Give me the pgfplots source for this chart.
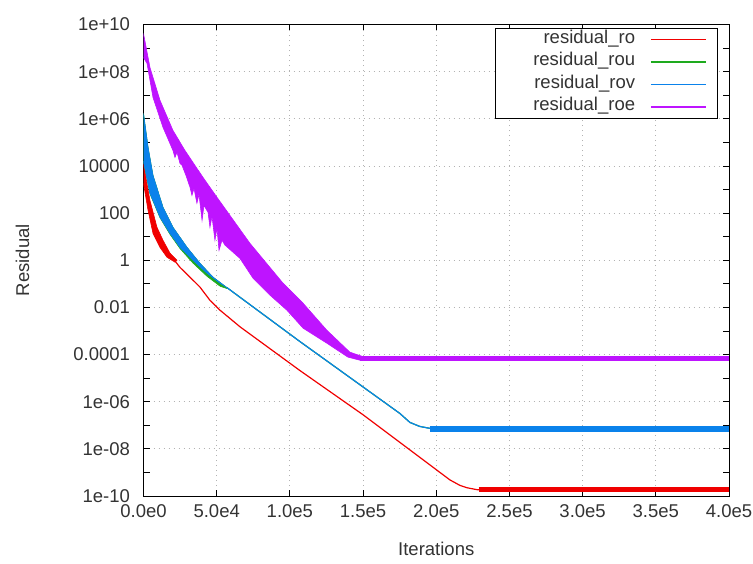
\documentclass[border=0pt]{standalone}
\usepackage{pgfplots}
\pgfplotsset{compat=1.18}
\usepackage{fontspec}
\setmainfont{Liberation Sans}
\definecolor{cro}{RGB}{240,0,0}
\definecolor{crou}{RGB}{30,170,30}
\definecolor{crov}{RGB}{10,130,235}
\definecolor{croe}{RGB}{190,20,255}
\newcommand\f{\fontsize{18.5pt}{22pt}\selectfont}
\begin{document}
\begin{tikzpicture}
\begin{axis}[
 scale only axis, width=585.5pt, height=471.5pt,
 xmin=0, xmax=400000, ymin=1e-10, ymax=1e10, ymode=log,
 xtick={0,50000,100000,150000,200000,250000,300000,350000,400000},
 xticklabels={0.0e0,5.0e4,1.0e5,1.5e5,2.0e5,2.5e5,3.0e5,3.5e5,4.0e5},
 scaled x ticks=false,
 ytick={1e-10,1e-8,1e-6,1e-4,1e-2,1,1e2,1e4,1e6,1e8,1e10},
 yticklabels={1e-10,1e-08,1e-06,0.0001,0.01,1,100,10000,1e+06,1e+08,1e+10},
 minor ytick={1e-9,1e-7,1e-5,1e-3,1e-1,10,1e3,1e5,1e7,1e9},
 grid=major,
 major grid style={gray!60, dash pattern=on 1.5pt off 3.5pt, line width=0.8pt},
 tick align=inside,
 tick style={black, line width=0.8pt},
 major tick length=6pt, minor tick length=6pt,
 axis line style={black, line width=1pt},
 tick label style={font=\f, text=black!80},
 yticklabel style={xshift=-10pt},
 xticklabel style={yshift=-5.5pt},
 xlabel={Iterations}, ylabel={Residual},
 every axis x label/.style={at={(axis description cs:0.5,-0.1124)}, anchor=center, font=\f, text=black!80},
 every axis y label/.style={at={(axis description cs:-0.2067,0.5)}, rotate=90, anchor=center, font=\f, text=black!80},
 legend style={at={(axis description cs:1,1)}, anchor=north east, xshift=-11pt, yshift=-3.5pt,
   font=\f, text=black!80, draw=black, line width=0.8pt, fill=white,
   inner xsep=0pt, inner ysep=0pt, row sep=0pt,
   nodes={inner sep=0pt, text height=15pt, text depth=7.5pt}},
 legend cell align=right, legend plot pos=right,
 legend image code/.code={\path (0pt,0pt) (81pt,0pt); \draw[#1] (15pt,0pt) -- (70pt,0pt);},
]
\addlegendimage{color=cro, draw=cro, line width=1.5pt}
\addlegendentry{\makebox[140pt][r]{residual\_ro}}
\addlegendimage{color=crou, draw=crou, line width=1.5pt}
\addlegendentry{\makebox[140pt][r]{residual\_rou}}
\addlegendimage{color=crov, draw=crov, line width=1.5pt}
\addlegendentry{\makebox[140pt][r]{residual\_rov}}
\addlegendimage{color=croe, draw=croe, line width=1.5pt}
\addlegendentry{\makebox[140pt][r]{residual\_roe}}

% ---- residual_ro ----
\addplot[forget plot, fill=cro, draw=cro, line width=0.6pt] coordinates {
 (0,1.29e4) (4400,347) (9200,25.1) (13300,7.08) (18100,2.0) (22900,1.0)
 (21500,0.832) (16000,1.35) (11200,3.55) (6500,13.8) (3100,132) (0,1820)};
\addplot[forget plot, cro, line width=1.2pt] coordinates {
 (20100,1.2) (24900,0.501) (31800,0.191) (38600,0.0724) (45400,0.02) (52300,7.59e-3)
 (59100,3.39e-3) (65900,1.51e-3) (106900,2.09e-5) (149900,2.82e-7) (202500,1e-9)
 (209400,4.79e-10) (216200,2.82e-10) (221000,2.24e-10) (227800,1.86e-10) (233200,1.78e-10)};
\addplot[forget plot, cro, line width=5pt] coordinates {(229000,1.8e-10) (400000,1.8e-10)};

% ---- residual_rou ----
\addplot[forget plot, fill=crou, draw=crou, line width=0.6pt] coordinates {
 (0,1.7e6) (3100,6.31e4) (6500,3980) (13300,178) (20100,25.1) (29700,3.55) (38600,0.741)
 (47500,0.191) (57000,0.0692)
 (57000,0.0631) (52300,0.0794) (43400,0.209) (33800,0.759) (24900,3.16) (18100,12.6)
 (11300,63.1) (4400,661) (0,1.58e4)};
\addplot[forget plot, crou, line width=1.2pt] coordinates {
 (57000,0.0692) (106900,3.55e-4) (175200,3.16e-7) (182000,1.32e-7) (188800,8.91e-8)
 (195700,7.41e-8) (202500,7.08e-8)};
\addplot[forget plot, crou, line width=6pt] coordinates {(195700,7.08e-8) (400000,7.08e-8)};

% ---- residual_rov ----
\addplot[forget plot, fill=crov, draw=crov, line width=0.6pt] coordinates {
 (0,1.7e6) (3100,6.31e4) (6500,3980) (13300,178) (20100,25.1) (29700,3.55) (38600,0.741)
 (47500,0.191) (57000,0.0692)
 (52300,0.107) (43400,0.282) (33800,1.0) (24900,3.55) (18100,13.8) (11300,66.1)
 (4400,692) (0,1.58e4)};
\addplot[forget plot, crov, line width=1.2pt] coordinates {
 (57000,0.0692) (106900,3.55e-4) (175200,3.16e-7) (182000,1.32e-7) (188800,8.91e-8)
 (195700,7.41e-8) (202500,7.08e-8)};
\addplot[forget plot, crov, line width=6pt] coordinates {(195700,7.08e-8) (400000,7.08e-8)};

% ---- residual_roe ----
\addplot[forget plot, fill=croe, draw=croe, line width=0.6pt] coordinates {
 (0,4.17e9) (4400,1.51e8) (11300,6.03e6) (20100,3.24e5) (28300,4.57e4) (40600,3310)
 (50200,468) (72700,5.25) (95300,0.107) (109000,0.0151) (125300,1.07e-3) (141000,1.26e-4)
 (149200,8.51e-5) (152000,7.08e-5)
 (147900,5.75e-5) (139700,7.76e-5) (125300,3.02e-4) (109000,1.32e-3) (98000,7.59e-3)
 (86400,0.0331) (74800,0.174) (65900,1.2) (55700,4.37) (53600,7.08) (51600,2.63)
 (50200,22.9) (48800,7.08) (46800,72.4) (45400,25.1) (44100,107) (41300,214) (40000,49)
 (37900,631) (36500,263) (34500,1120) (33100,562) (31800,1230) (29000,3980) (26300,1.07e4)
 (24900,1.29e4) (22900,3.8e4) (21500,2.29e4) (20100,4.57e4) (13300,4.37e5) (6500,7.94e6)
 (2400,2.24e8) (0,3.98e8)};
\addplot[forget plot, croe, line width=5pt] coordinates {(148000,6.61e-5) (400000,6.61e-5)};

\coordinate (SW) at (rel axis cs:0,0);
\coordinate (NE) at (rel axis cs:1,1);
\end{axis}
\pgfresetboundingbox
\path ([shift={(-143.5pt,-67pt)}]SW) rectangle ([shift={(24pt,24.5pt)}]NE);
\end{tikzpicture}
\end{document}
